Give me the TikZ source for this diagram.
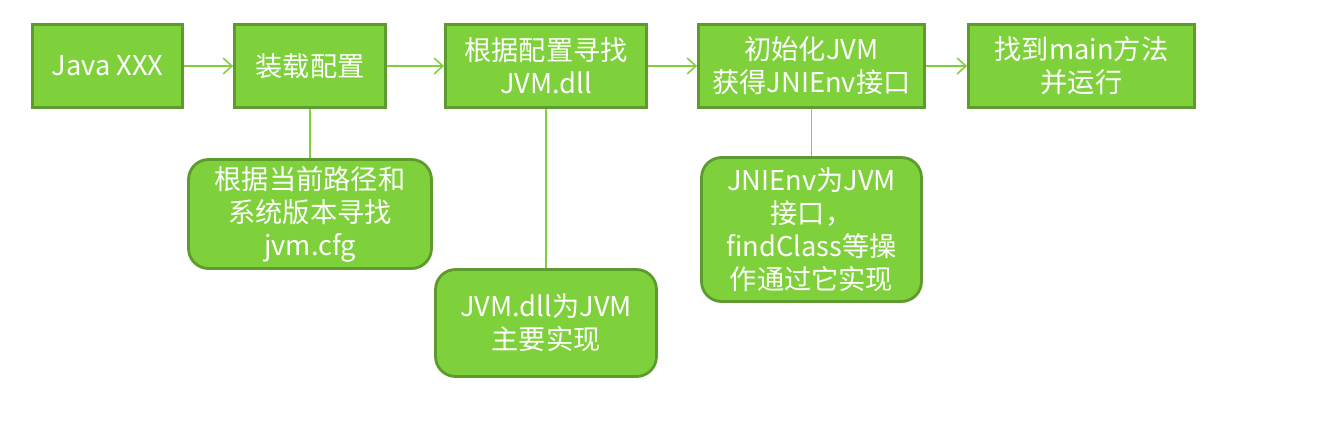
\documentclass[tikz,border=0pt]{standalone}
\usepackage{fontspec}
\setmainfont{Noto Sans CJK SC}
\usetikzlibrary{arrows.meta}
\definecolor{stepfill}{HTML}{7FD13B}
\definecolor{stepline}{HTML}{5E9B2E}
\definecolor{linkline}{HTML}{7FD13B}
\tikzset{%
  stepbox/.style={
    rectangle,
    draw=stepline,
    fill=stepfill,
    line width=1.6pt,
    text=white,
    align=center,
    inner sep=0pt,
    minimum height=1.66cm,
    font=\fontsize{15.5}{18.8}\selectfont
  },
  notebox/.style={
    stepbox,
    rounded corners=0.4cm
  },
  flow/.style={
    draw=linkline,
    line width=0.9pt,
    -{Straight Barb[length=5pt,width=9pt]}
  },
  link/.style={
    draw=linkline,
    line width=0.7pt
  },
}

\begin{document}
\begin{tikzpicture}[x=0.02cm, y=-0.02cm]
\useasboundingbox (0,0) rectangle (1339,440);
    % main steps
    \node[stepbox, minimum width=3.0cm]  (java)   at (107.5,66) {Java XXX};
    \node[stepbox, minimum width=3.02cm] (config) at (310,66)   {装载配置};
    \node[stepbox, minimum width=4.02cm] (dll)    at (546,66)   {根据配置寻找\\JVM.dll};
    \node[stepbox, minimum width=4.52cm] (init)   at (811.5,66) {初始化JVM\\获得JNIEnv接口};
    \node[stepbox, minimum width=4.52cm] (run)    at (1081.5,66){找到main方法\\并运行};

    % notes
    \node[notebox, minimum width=4.86cm, minimum height=2.18cm] (cfgnote) at (310,214)
        {根据当前路径和\\系统版本寻找\\jvm.cfg};
    \node[notebox, minimum width=4.42cm, minimum height=2.14cm] (dllnote) at (546,323)
        {JVM.dll为JVM\\主要实现};
    \node[notebox, minimum width=4.4cm, minimum height=2.88cm] (envnote) at (811.5,229.5)
        {JNIEnv为JVM\\接口，\\findClass等操\\作通过它实现};

    \draw[flow] (java) -- (config);
    \draw[flow] (config) -- (dll);
    \draw[flow] (dll) -- (init);
    \draw[flow] (init) -- (run);

    \draw[link] (config) -- (cfgnote);
    \draw[link] (dll) -- (dllnote);
    \draw[link] (init) -- (envnote);
\end{tikzpicture}
\end{document}
